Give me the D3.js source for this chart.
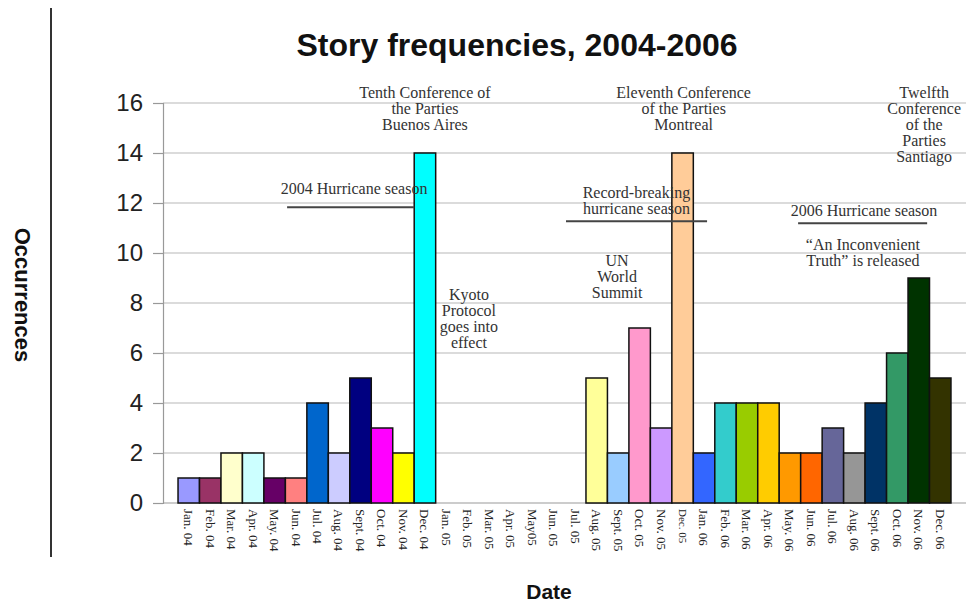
<!DOCTYPE html>
<html>
<head>
<meta charset="utf-8">
<script src="https://cdn.jsdelivr.net/npm/d3@7"></script>
<style>
  html, body { margin: 0; padding: 0; background: #fff; }
  svg { display: block; }
</style>
</head>
<body>
<svg id="chart" width="969" height="605"></svg>
<script>
// Monthly story counts, Jan 2004 – Dec 2006
const months = [
  "Jan. 04", "Feb. 04", "Mar. 04", "Apr. 04", "May. 04", "Jun. 04",
  "Jul. 04", "Aug. 04", "Sept. 04", "Oct. 04", "Nov. 04", "Dec. 04",
  "Jan. 05", "Feb. 05", "Mar. 05", "Apr. 05", "May05", "Jun. 05",
  "Jul. 05", "Aug. 05", "Sept. 05", "Oct. 05", "Nov. 05", "Dec. 05",
  "Jan. 06", "Feb. 06", "Mar. 06", "Apr. 06", "May. 06", "Jun. 06",
  "Jul. 06", "Aug. 06", "Sept. 06", "Oct. 06", "Nov. 06", "Dec. 06"
];
const occurrences = [
  1, 1, 2, 2, 1, 1, 4, 2, 5, 3, 2, 14,
  0, 0, 0, 0, 0, 0, 0, 5, 2, 7, 3, 14,
  2, 4, 4, 4, 2, 2, 3, 2, 4, 6, 9, 5
];
const barColors = [
  "#9999ff", "#993366", "#ffffcc", "#ccffff", "#660066", "#ff8080",
  "#0066cc", "#ccccff", "#000080", "#ff00ff", "#ffff00", "#00ffff",
  "#800000", "#008080", "#0000ff", "#00ccff", "#ccffcc", "#ff99cc",
  "#99ccff", "#ffff99", "#99ccff", "#ff99cc", "#cc99ff", "#ffcc99",
  "#3366ff", "#33cccc", "#99cc00", "#ffcc00", "#ff9900", "#ff6600",
  "#666699", "#969696", "#003366", "#339966", "#003300", "#333300"
];
const yTicks = [0, 2, 4, 6, 8, 10, 12, 14, 16];

const titleText = "Story frequencies, 2004-2006";
const yTitle = "Occurrences";
const xTitle = "Date";

// Event notes shown above the bars
const noteTenth = ["Tenth Conference of", "the Parties", "Buenos Aires"];
const noteHurricane04 = ["2004 Hurricane season"];
const noteKyoto = ["Kyoto", "Protocol", "goes into", "effect"];
const noteEleventh = ["Eleventh Conference", "of the Parties", "Montreal"];
const noteRecord = ["Record-breaking", "hurricane season"];
const noteSummit = ["UN", "World", "Summit"];
const noteHurricane06 = ["2006 Hurricane season"];
const noteTruth = ["\u201CAn Inconvenient", "Truth\u201D is released"];
const noteTwelfth = ["Twelfth", "Conference", "of the", "Parties", "Santiago"];

(function draw() {
  const svg = d3.select("#chart");
  const plotL = 163, plotR = 966, plotT = 103, plotB = 503;

  const x = d3.scaleBand().domain(months).range([plotL, plotR])
    .paddingInner(0).paddingOuter(0.7);
  const y = d3.scaleLinear().domain([0, 16]).range([plotB, plotT]);

  // position in band units (0 = left edge of the first bar)
  const xAt = u => plotL + x.step() * x.paddingOuter() + u * x.step();

  const SANS = "'Liberation Sans', Arial, sans-serif";
  const SERIF = "'Liberation Serif', 'Times New Roman', serif";

  // Left rule
  svg.append("line")
    .attr("x1", 51).attr("x2", 51).attr("y1", 8).attr("y2", 557)
    .attr("stroke", "#333").attr("stroke-width", 2);

  // Title
  svg.append("text")
    .attr("x", 517).attr("y", 56)
    .attr("text-anchor", "middle")
    .attr("font-family", SANS).attr("font-weight", "bold")
    .attr("font-size", 32).attr("fill", "#111")
    .text(titleText);

  // Gridlines
  svg.append("g").selectAll("line")
    .data(yTicks.filter(t => t > 0))
    .join("line")
    .attr("x1", plotL).attr("x2", plotR)
    .attr("y1", d => y(d)).attr("y2", d => y(d))
    .attr("stroke", "#b8b8b8").attr("stroke-width", 1.2);

  // Y axis
  const yAxis = svg.append("g")
    .attr("transform", `translate(${plotL},0)`)
    .call(d3.axisLeft(y).tickValues(yTicks).tickSize(10).tickPadding(10));
  yAxis.select(".domain").attr("stroke", "#999").attr("stroke-width", 1.2);
  yAxis.selectAll(".tick line").attr("stroke", "#999").attr("stroke-width", 1.2);
  yAxis.selectAll(".tick text")
    .attr("font-family", SANS).attr("font-size", 24).attr("fill", "#222");

  // X baseline
  svg.append("line")
    .attr("x1", plotL).attr("x2", plotR).attr("y1", y(0)).attr("y2", y(0))
    .attr("stroke", "#999").attr("stroke-width", 1.2);

  // Bars
  svg.append("g").selectAll("rect")
    .data(months.map((m, i) => ({ m, v: occurrences[i], c: barColors[i] })).filter(d => d.v > 0))
    .join("rect")
    .attr("x", d => x(d.m))
    .attr("width", x.bandwidth())
    .attr("y", d => y(d.v))
    .attr("height", d => y(0) - y(d.v))
    .attr("fill", d => d.c)
    .attr("stroke", "#111").attr("stroke-width", 1.5);

  // Month labels, rotated to read downward
  const smallLabels = new Set(["Dec. 05"]);
  svg.append("g").selectAll("text")
    .data(months)
    .join("text")
    .attr("transform", d => `translate(${x(d) + x.bandwidth() / 2},${plotB + 6}) rotate(90)`)
    .attr("dy", "0.35em")
    .attr("text-anchor", "start")
    .attr("font-family", SERIF)
    .attr("font-size", d => smallLabels.has(d) ? 11 : 13)
    .attr("fill", "#222")
    .text(d => d);

  // Axis titles
  svg.append("text")
    .attr("transform", "translate(23,295) rotate(90)")
    .attr("dy", "0.35em")
    .attr("text-anchor", "middle")
    .attr("font-family", SANS).attr("font-weight", "bold")
    .attr("font-size", 22).attr("fill", "#111")
    .text(yTitle);

  svg.append("text")
    .attr("x", 549).attr("y", 599)
    .attr("text-anchor", "middle")
    .attr("font-family", SANS).attr("font-weight", "bold")
    .attr("font-size", 21).attr("fill", "#111")
    .text(xTitle);

  // Notes: centre (band units), first baseline (data units)
  const notes = [
    { lines: noteTenth, u: 11.5, v: 16.2 },
    { lines: noteHurricane04, u: 8.2, v: 12.35 },
    { lines: noteKyoto, u: 13.55, v: 8.14 },
    { lines: noteEleventh, u: 23.55, v: 16.2 },
    { lines: noteRecord, u: 21.35, v: 12.2 },
    { lines: noteSummit, u: 20.45, v: 9.5 },
    { lines: noteHurricane06, u: 31.95, v: 11.47 },
    { lines: noteTruth, u: 31.9, v: 10.14 },
    { lines: noteTwelfth, u: 34.75, v: 16.2 }
  ];
  const noteG = svg.append("g");
  notes.forEach(n => {
    const t = noteG.append("text")
      .attr("x", xAt(n.u)).attr("y", y(n.v))
      .attr("text-anchor", "middle")
      .attr("font-family", SERIF).attr("font-size", 16)
      .attr("fill", "#333");
    t.selectAll("tspan")
      .data(n.lines)
      .join("tspan")
      .attr("x", xAt(n.u))
      .attr("dy", (d, i) => i === 0 ? 0 : 16)
      .text(d => d);
  });

  // Season spans under the hurricane notes
  const spans = [
    { u0: 5.08, u1: 11.0, v: 11.83 },
    { u0: 18.07, u1: 24.64, v: 11.27 },
    { u0: 28.88, u1: 34.89, v: 11.19 }
  ];
  noteG.selectAll("line")
    .data(spans)
    .join("line")
    .attr("x1", d => xAt(d.u0)).attr("x2", d => xAt(d.u1))
    .attr("y1", d => y(d.v)).attr("y2", d => y(d.v))
    .attr("stroke", "#444").attr("stroke-width", 2);
})();
</script>
</body>
</html>
